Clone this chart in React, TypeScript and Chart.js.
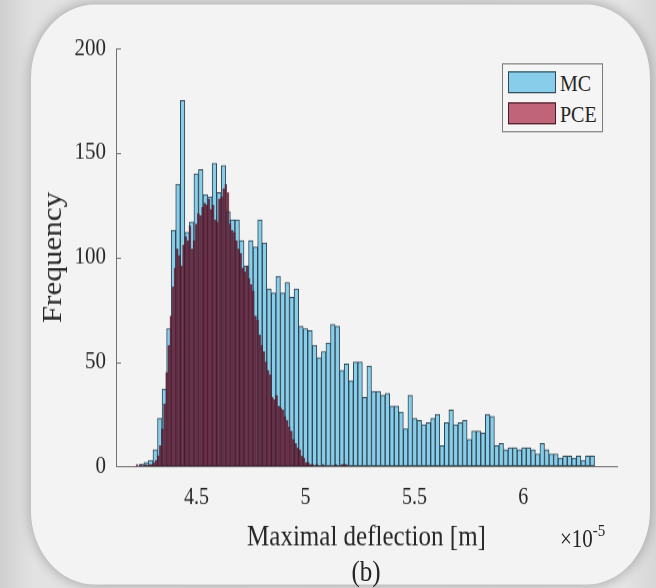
import React, { useEffect, useRef } from 'react';
import { Chart, registerables } from 'chart.js';

Chart.register(...registerables);

// ---- data (x in units of 1e-5 m) ----
const seriesNames = ['MC', 'PCE'];

const mcBinStart = 4.237;
const mcBinWidth = 0.0209;
const mcCounts = [
  1, 2, 3, 8, 23, 37, 66, 113, 135, 175,
  112, 117, 140, 142, 130, 129, 145, 131, 144, 122,
  118, 118, 108, 96, 108, 105, 118, 107, 85, 83,
  91, 83, 88, 81, 85, 67, 66, 65, 58, 52,
  55, 59, 68, 67, 46, 49, 41, 50, 50, 33,
  48, 36, 36, 34, 35, 29, 29, 26, 18, 34,
  23, 22, 20, 21, 23, 25, 10, 21, 27, 20,
  21, 22, 13, 17, 17, 16, 25, 24, 10, 11,
  8, 9, 9, 8, 9, 9, 8, 6, 11, 8,
  6, 6, 4, 5, 5, 4, 5, 3, 5, 5,
];

const pceBinStart = 4.222;
const pceBinWidth = 0.0097;
const pceCounts = [
  1, 0, 1, 0, 1, 0, 1, 1, 2, 3,
  5, 10, 18, 30, 45, 58, 72, 86, 95, 104,
  101, 96, 106, 110, 108, 115, 104, 108, 116, 121,
  120, 124, 126, 125, 128, 123, 125, 118, 117, 128,
  129, 133, 135, 131, 116, 113, 112, 108, 104, 102,
  95, 93, 96, 90, 87, 84, 72, 70, 63, 58,
  55, 50, 46, 44, 33, 32, 34, 29, 28, 27,
  24, 22, 19, 17, 13, 11, 9, 8, 5, 4,
  2, 2, 1, 1, 0, 1, 0, 0, 1, 0,
  0, 0, 0, 0, 1, 0, 0, 1, 1, 1,
];

const xTicks = [4.5, 5, 5.5, 6];
const yTicks = [0, 50, 100, 150, 200];
const xMin = 4.13;
const xMax = 6.43;
const yMin = 0;
const yMax = 200;
const xTitle = 'Maximal deflection [m]';
const yTitle = 'Frequency';
const xExponent = '-5';
const panelLabel = '(b)';

// ---- look ----
const W = 656;
const H = 511;
const S = 588 / H; // vertical stretch of the whole figure
const FONT = "'Liberation Serif', 'Times New Roman', serif";
const TEXT = '#262626';
const AXIS = '#707070';
const MC_FILL = 'rgb(136, 205, 234)';
const MC_EDGE = 'rgb(48, 70, 82)';
const PCE_FILL = 'rgba(108, 28, 52, 0.86)';
const PCE_EDGE = 'rgba(50, 12, 26, 0.55)';
const PCE_SWATCH = 'rgb(192, 100, 121)';

const toPoints = (start: number, width: number, counts: number[]) =>
  counts.map((c, i) => ({ x: start + width * (i + 0.5), y: c }));

const tickMarks = {
  id: 'tickMarks',
  beforeDatasetsDraw(chart: any) {
    const { ctx, chartArea, scales } = chart;
    ctx.save();
    ctx.strokeStyle = AXIS;
    ctx.lineWidth = 1;
    scales.y.ticks.forEach((t: any) => {
      const p = Math.round(scales.y.getPixelForValue(t.value)) + 0.5;
      ctx.beginPath();
      ctx.moveTo(chartArea.left, p);
      ctx.lineTo(chartArea.left + 5, p);
      ctx.stroke();
    });
    scales.x.ticks.forEach((t: any) => {
      const p = Math.round(scales.x.getPixelForValue(t.value)) + 0.5;
      ctx.beginPath();
      ctx.moveTo(p, chartArea.bottom);
      ctx.lineTo(p, chartArea.bottom - 5);
      ctx.stroke();
    });
    ctx.restore();
  },
};

export default function App() {
  const ref = useRef<HTMLCanvasElement | null>(null);

  useEffect(() => {
    if (!ref.current) return;
    const chart = new Chart(ref.current, {
      type: 'bar',
      data: {
        datasets: [
          {
            label: seriesNames[0],
            data: toPoints(mcBinStart, mcBinWidth, mcCounts) as any,
            xAxisID: 'x',
            backgroundColor: MC_FILL,
            borderColor: MC_EDGE,
            borderWidth: 1,
            borderSkipped: false,
            grouped: false,
            barPercentage: 1,
            categoryPercentage: 1,
            order: 2,
          },
          {
            label: seriesNames[1],
            data: toPoints(pceBinStart, pceBinWidth, pceCounts) as any,
            xAxisID: 'x2',
            backgroundColor: PCE_FILL,
            borderColor: PCE_EDGE,
            borderWidth: 0.6,
            borderSkipped: false,
            grouped: false,
            barPercentage: 1,
            categoryPercentage: 1,
            order: 1,
          },
        ],
      },
      options: {
        responsive: false,
        maintainAspectRatio: false,
        animation: false,
        devicePixelRatio: 1,
        events: [],
        layout: { padding: { left: 38, right: 39, top: 42, bottom: 29 } },
        plugins: { legend: { display: false }, tooltip: { enabled: false } },
        scales: {
          x: {
            type: 'linear',
            min: xMin,
            max: xMax,
            offset: false,
            afterBuildTicks: (scale: any) => {
              scale.ticks = xTicks.map((v) => ({ value: v }));
            },
            afterFit: (scale: any) => {
              scale.height = H - 29 - 466.5 / S;
            },
            ticks: {
              callback: (v: any) => String(v),
              color: TEXT,
              padding: 15,
              font: { family: FONT, size: 20 },
              maxRotation: 0,
              autoSkip: false,
            },
            grid: { display: true, drawOnChartArea: false, drawTicks: false, offset: false },
            border: { display: true, color: AXIS, width: 1 },
            title: {
              display: true,
              text: xTitle,
              color: TEXT,
              font: { family: FONT, size: 25 },
              padding: { top: 0, bottom: 0 },
            },
          },
          x2: {
            type: 'linear',
            min: xMin,
            max: xMax,
            offset: false,
            display: false,
            grid: { offset: false },
          },
          y: {
            type: 'linear',
            min: yMin,
            max: yMax,
            afterBuildTicks: (scale: any) => {
              scale.ticks = yTicks.map((v) => ({ value: v }));
            },
            afterFit: (scale: any) => {
              scale.width = 116 - 38;
            },
            ticks: {
              callback: (v: any) => String(v),
              color: TEXT,
              padding: 10,
              font: { family: FONT, size: 21 },
            },
            grid: { display: true, drawOnChartArea: false, drawTicks: false },
            border: { display: true, color: AXIS, width: 1 },
            title: {
              display: true,
              text: yTitle,
              color: TEXT,
              font: { family: FONT, size: 27 },
              padding: { top: 0, bottom: 0 },
            },
          },
        },
      } as any,
      plugins: [tickMarks],
    });
    return () => chart.destroy();
  }, []);

  const swatch = (fill: string, edge: string): React.CSSProperties => ({
    position: 'absolute',
    left: 5,
    width: 48,
    height: 19,
    background: fill,
    border: `1.5px solid ${edge}`,
    boxSizing: 'border-box',
  });

  const legendText: React.CSSProperties = {
    position: 'absolute',
    left: 57,
    fontFamily: FONT,
    fontSize: 20,
    lineHeight: '20px',
    color: TEXT,
    whiteSpace: 'nowrap',
  };

  return (
    <div
      style={{
        position: 'fixed',
        left: 0,
        top: 0,
        width: W,
        height: 588,
        overflow: 'hidden',
        background: 'linear-gradient(90deg, #cfcfcf 0%, #e2e2e2 5%, #e4e4e4 95%, #d6d6d6 100%)',
      }}
    >
      <div
        style={{
          position: 'absolute',
          left: 0,
          top: 0,
          width: W,
          height: H,
          transform: `scaleY(${S})`,
          transformOrigin: '0 0',
        }}
      >
        <div
          style={{
            position: 'absolute',
            left: 31,
            top: 5 / S,
            width: 619,
            height: 580 / S,
            borderRadius: 64,
            background: '#f3f3f3',
            boxShadow: '0 0 10px 2px rgba(0,0,0,0.22)',
          }}
        />
        <canvas
          ref={ref}
          width={W}
          height={H}
          style={{ position: 'absolute', left: 0, top: 0, width: W, height: H }}
        />
        <div
          style={{
            position: 'absolute',
            left: 502,
            top: 63 / S,
            width: 101,
            height: 69 / S,
            border: '1px solid #7a7a7a',
            boxSizing: 'border-box',
            background: '#f5f5f5',
          }}
        >
          <div style={{ ...swatch(MC_FILL, MC_EDGE), top: 6 }} />
          <div style={{ ...legendText, top: 6 }}>{seriesNames[0]}</div>
          <div style={{ ...swatch(PCE_SWATCH, 'rgb(70, 30, 42)'), top: 33 }} />
          <div style={{ ...legendText, top: 33 }}>{seriesNames[1]}</div>
        </div>
        <div
          style={{
            position: 'absolute',
            left: 560,
            top: 527 / S,
            fontFamily: FONT,
            fontSize: 21,
            lineHeight: '21px',
            color: TEXT,
            whiteSpace: 'nowrap',
          }}
        >
          ×10<sup style={{ fontSize: 15, verticalAlign: 'top', position: 'relative', top: -7 }}>{xExponent}</sup>
        </div>
        <div
          style={{
            position: 'absolute',
            left: 316,
            width: 100,
            textAlign: 'center',
            top: 557 / S,
            fontFamily: FONT,
            fontSize: 25,
            lineHeight: '25px',
            color: TEXT,
          }}
        >
          {panelLabel}
        </div>
      </div>
    </div>
  );
}
